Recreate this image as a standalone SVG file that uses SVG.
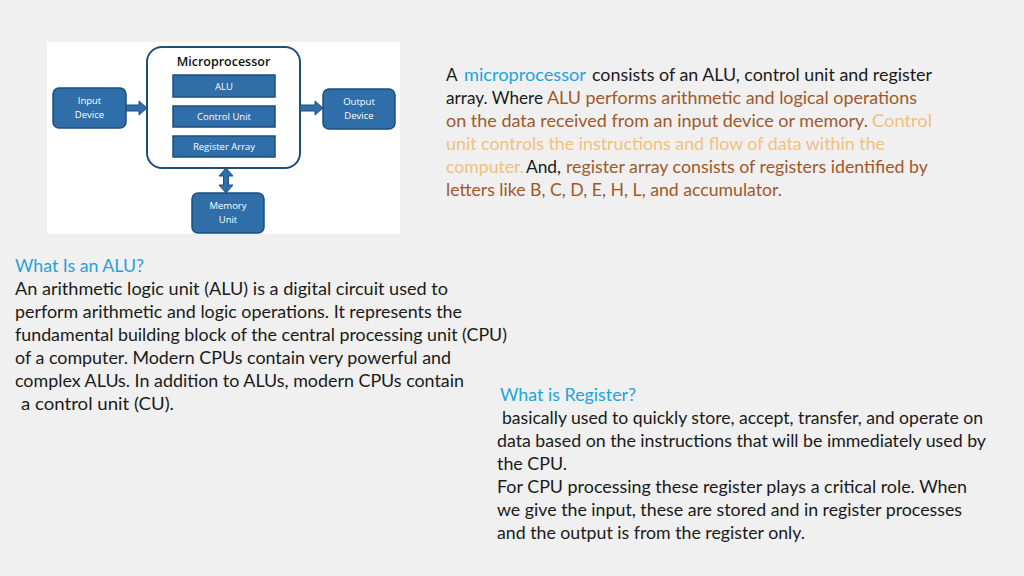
<svg xmlns="http://www.w3.org/2000/svg" width="1024" height="576" viewBox="0 0 1024 576">
<style>
.bx{fill:#2f6ea8;stroke:#1d4f7c;stroke-width:1.5}
.bt{font-family:"Open Sans","Liberation Sans",sans-serif;font-size:9.5px;fill:#ffffff;text-anchor:middle}
.ar{fill:#2f6ea8;stroke:#1d4f7c;stroke-width:1}
.t{font-family:Lato,"Liberation Sans",sans-serif;font-size:17px;fill:#1a1a1a}
.hd{fill:#1fa3dc}
.br{fill:#a0582a}
.lo{fill:#f2c17c}
</style>
<rect x="0" y="0" width="1024" height="576" fill="#f0f0f0"/>
<rect x="47" y="42" width="353" height="192" fill="#ffffff"/>
<g id="microprocessor">
<rect x="147" y="47" width="153" height="121" rx="15" fill="#ffffff" stroke="#1d4f7c" stroke-width="2"/>
<text x="223.5" y="66" font-family="Open Sans, Liberation Sans, sans-serif" font-size="12.5" fill="#111" text-anchor="middle" font-weight="600">Microprocessor</text>
</g>
<g id="alu"><rect class="bx" x="173" y="75" width="102" height="22"/><text class="bt" x="224" y="89.5">ALU</text></g>
<g id="control-unit"><rect class="bx" x="173" y="106" width="102" height="21"/><text class="bt" x="224" y="120">Control Unit</text></g>
<g id="register-array"><rect class="bx" x="173" y="136" width="102" height="21"/><text class="bt" x="224" y="150">Register Array</text></g>
<g id="input-device"><rect class="bx" x="53" y="88" width="73" height="40" rx="6"/><text class="bt" x="89.5" y="104">Input</text><text class="bt" x="89.5" y="118">Device</text></g>
<g id="output-device"><rect class="bx" x="323" y="89" width="72" height="40" rx="6"/><text class="bt" x="359" y="105">Output</text><text class="bt" x="359" y="119">Device</text></g>
<g id="memory-unit"><rect class="bx" x="192" y="193" width="72" height="40" rx="6"/><text class="bt" x="228" y="209">Memory</text><text class="bt" x="228" y="223">Unit</text></g>
<g id="connectors">
<path class="ar" d="M126,105 H139 V101 L147,108 L139,115 V111 H126 Z"/>
<path class="ar" d="M300,105 H315 V101 L323,108 L315,115 V111 H300 Z"/>
<path class="ar" d="M226,168 L233,176 H228.5 V185 H233 L226,193 L219,185 H223.5 V176 H219 Z"/>
</g>
<g id="text-top">
<text class="t" y="81"><tspan x="446">A </tspan><tspan class="hd" x="464" textLength="122" lengthAdjust="spacingAndGlyphs">microprocessor</tspan><tspan x="592" textLength="340" lengthAdjust="spacingAndGlyphs">consists of an ALU, control unit and register</tspan></text>
<text class="t" y="104"><tspan x="446" textLength="97" lengthAdjust="spacingAndGlyphs">array. Where</tspan><tspan class="br" x="547" textLength="370" lengthAdjust="spacingAndGlyphs">ALU performs arithmetic and logical operations</tspan></text>
<text class="t" y="127"><tspan class="br" x="446" textLength="422" lengthAdjust="spacingAndGlyphs">on the data received from an input device or memory.</tspan><tspan class="lo" x="872" textLength="60" lengthAdjust="spacingAndGlyphs">Control</tspan></text>
<text class="t" y="150"><tspan class="lo" x="446" textLength="439" lengthAdjust="spacingAndGlyphs">unit controls the instructions and flow of data within the</tspan></text>
<text class="t" y="173"><tspan class="lo" x="446" textLength="78" lengthAdjust="spacingAndGlyphs">computer.</tspan><tspan x="526" textLength="35" lengthAdjust="spacingAndGlyphs">And,</tspan><tspan class="br" x="566" textLength="362" lengthAdjust="spacingAndGlyphs">register array consists of registers identified by</tspan></text>
<text class="t br" x="446" y="196" textLength="336" lengthAdjust="spacingAndGlyphs">letters like B, C, D, E, H, L, and accumulator.</text>
</g>
<g id="text-alu">
<text class="t hd" x="15" y="272" textLength="129" lengthAdjust="spacingAndGlyphs">What Is an ALU?</text>
<text class="t" x="15" y="295" textLength="433" lengthAdjust="spacingAndGlyphs">An arithmetic logic unit (ALU) is a digital circuit used to</text>
<text class="t" x="15" y="318" textLength="447" lengthAdjust="spacingAndGlyphs">perform arithmetic and logic operations. It represents the</text>
<text class="t" x="15" y="341" textLength="492" lengthAdjust="spacingAndGlyphs">fundamental building block of the central processing unit (CPU)</text>
<text class="t" x="15" y="364" textLength="436" lengthAdjust="spacingAndGlyphs">of a computer. Modern CPUs contain very powerful and</text>
<text class="t" x="15" y="387" textLength="449" lengthAdjust="spacingAndGlyphs">complex ALUs. In addition to ALUs, modern CPUs contain</text>
<text class="t" x="21" y="410" textLength="153" lengthAdjust="spacingAndGlyphs">a control unit (CU).</text>
</g>
<g id="text-register">
<text class="t hd" x="500" y="401" textLength="136" lengthAdjust="spacingAndGlyphs">What is Register?</text>
<text class="t" x="502" y="424" textLength="481" lengthAdjust="spacingAndGlyphs">basically used to quickly store, accept, transfer, and operate on</text>
<text class="t" x="497" y="447" textLength="489" lengthAdjust="spacingAndGlyphs">data based on the instructions that will be immediately used by</text>
<text class="t" x="497" y="470" textLength="70" lengthAdjust="spacingAndGlyphs">the CPU.</text>
<text class="t" x="497" y="493" textLength="470" lengthAdjust="spacingAndGlyphs">For CPU processing these register plays a critical role. When</text>
<text class="t" x="497" y="516" textLength="465" lengthAdjust="spacingAndGlyphs">we give the input, these are stored and in register processes</text>
<text class="t" x="497" y="539" textLength="308" lengthAdjust="spacingAndGlyphs">and the output is from the register only.</text>
</g>
</svg>
